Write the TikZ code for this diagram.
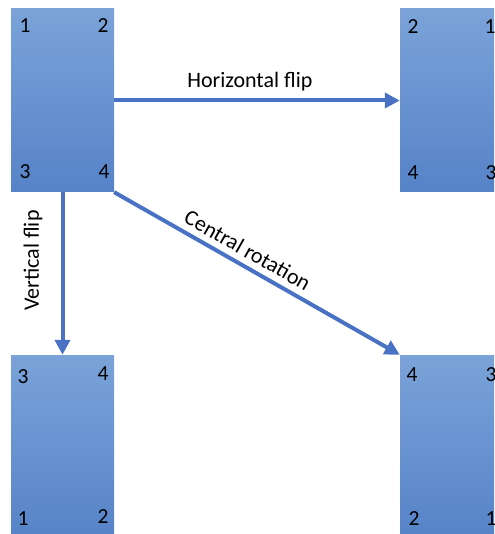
\documentclass[tikz,border=0pt]{standalone}
\usepackage{fontspec}
\setmainfont{Carlito}
\usetikzlibrary{arrows.meta,calc}
\definecolor{boxtop}{HTML}{7BA3D9}
\definecolor{boxbot}{HTML}{5683C8}
\definecolor{arrowblue}{HTML}{4A72C4}
\tikzset{
  card/.style={rectangle, inner sep=0pt, minimum width=103pt, minimum height=183pt,
    top color=boxtop, bottom color=boxbot, draw=none},
  num/.style={font=\fontsize{21.5}{22}\selectfont, inner sep=0pt, text=black},
  flow/.style={draw=arrowblue, line width=4pt,
    -{Triangle[length=15pt,width=15pt]}},
  lab/.style={font=\fontsize{22}{23}\selectfont, text=black, inner sep=0pt}
}
\begin{document}
\begin{tikzpicture}[x=1pt,y=-1pt]
\useasboundingbox (0,0) rectangle (494,534);
\clip (0,0) rectangle (494,534);
\fill[white] (0,0) rectangle (494,534);
% cards
\node[card] (A) at (62.5,100.5) {};
\node[card] (B) at (451.5,100.5) {};
\node[card] (C) at (62.5,446.5) {};
\node[card] (D) at (451.5,446.5) {};
% numbers A
\node[num] (a1) at (25,26) {1};
\node[num] (a2) at (103,26) {2};
\node[num] (a3) at (25,172) {3};
\node[num] (a4) at (104,172) {4};
% numbers B
\node[num] (b2) at (413,27) {2};
\node[num] (b1) at (490,27) {1};
\node[num] (b4) at (413,173) {4};
\node[num] (b3) at (491,173) {3};
% numbers C
\node[num] (c3) at (23,377) {3};
\node[num] (c4) at (103,374) {4};
\node[num] (c1) at (23,519) {1};
\node[num] (c2) at (103,517) {2};
% numbers D
\node[num] (d4) at (412,375) {4};
\node[num] (d3) at (491,375) {3};
\node[num] (d2) at (414,519) {2};
\node[num] (d1) at (491,519) {1};
% arrows
\draw[flow] (A.east) -- node[lab, above=7pt, pos=0.475] {Horizontal flip} (B.west);
\draw[flow] (A.south) -- (C.north);
\node[lab, rotate=90, anchor=south] (vlab) at ($(A.south)!0.42!(C.north)+(-20,0)$) {Vertical flip};
\draw[flow] (A.south east) -- node[lab, sloped, above=6pt, pos=0.44] {Central rotation} (D.north west);
\end{tikzpicture}
\end{document}
